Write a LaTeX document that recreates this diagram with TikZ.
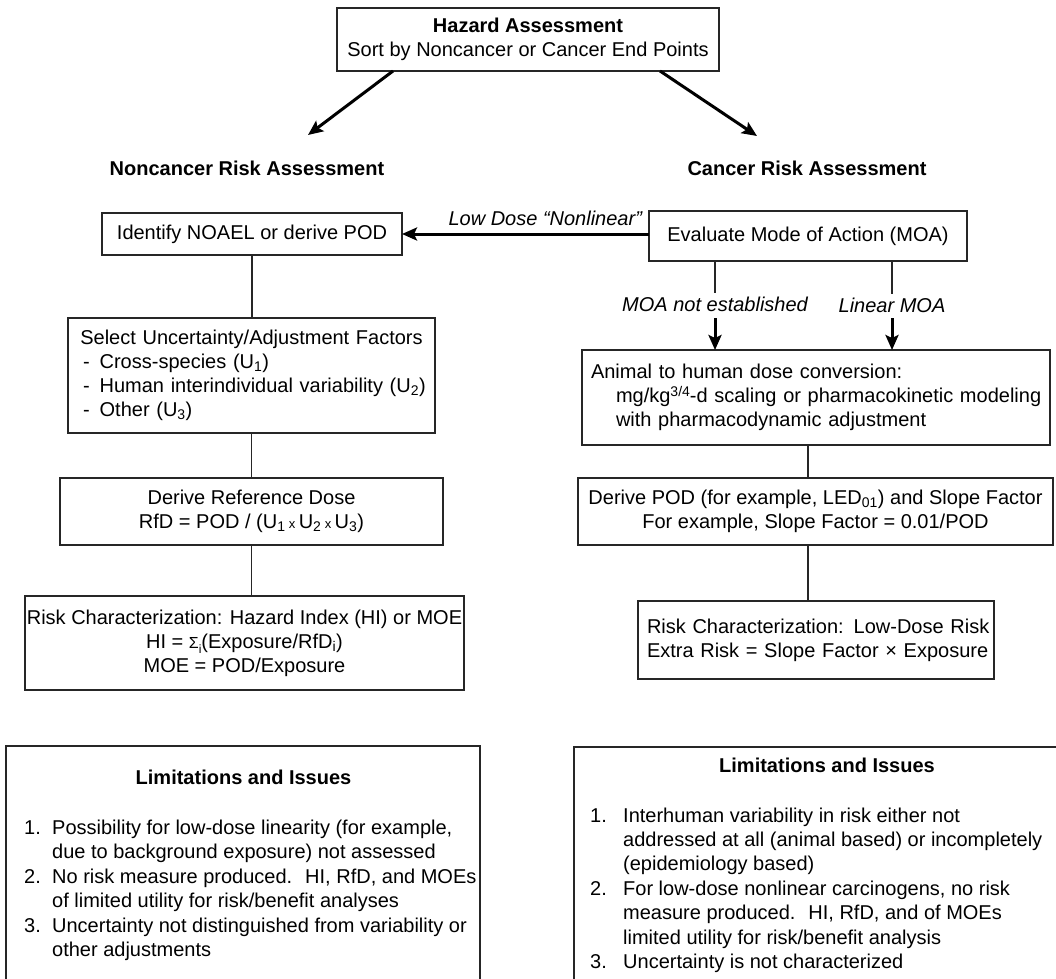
\documentclass[tikz,border=0pt]{standalone}
\usepackage{fontspec}
\setmainfont{Liberation Sans}
\usepackage{tikz}
\usetikzlibrary{calc,positioning,arrows.meta}

\newcommand{\tmx}{{\fontsize{13}{13}\selectfont x}}

\begin{document}
\begin{tikzpicture}[x=1pt,y=-1pt,font=\fontsize{20}{24}\selectfont]
  \useasboundingbox (0,0) rectangle (1056,978);
  \clip (0,0) rectangle (1056,978);
  \tikzstyle{box}=[draw=black!85, line width=1.3pt, inner sep=0pt, outer sep=0pt, align=center]
  \tikzstyle{head}=[font=\fontsize{20}{24}\selectfont\bfseries]
  \tikzstyle{lbl}=[font=\fontsize{20}{24}\selectfont\itshape, inner sep=0pt]
  \tikzstyle{link}=[line width=1.3pt, draw=black!85]
  \tikzstyle{bigarrow}=[line width=3pt, -{Stealth[length=15pt,width=13pt,inset=3pt]}]
  % top
  \node[box, minimum width=382pt, minimum height=63pt] (haz) at (528,39.5)
    {{\bfseries Hazard Assessment}\\Sort by Noncancer or Cancer End Points};
  \node[head] (nonc) at (247,168) {Noncancer Risk Assessment};
  \node[head] (canc) at (807,168) {Cancer Risk Assessment};
  \coordinate (hzL) at ([xshift=-135pt]haz.south);
  \coordinate (hzR) at ([xshift=132pt]haz.south);
  \coordinate (ncTip) at (308,135);
  \coordinate (caTip) at (757,136);
  \draw[bigarrow] (hzL) -- (ncTip);
  \draw[bigarrow] (hzR) -- (caTip);
  % noncancer column
  \node[box, minimum width=300pt, minimum height=42pt] (ident) at (252,234) {Identify NOAEL or derive POD};
  \node[box, text width=351pt, inner xsep=8pt, minimum height=115pt, align=left] (sel) at (251.5,375.5)
    {\makebox[\linewidth]{Select Uncertainty/Adjustment Factors}\\
     \hspace*{7pt}-\hspace{10pt}Cross-species (U\textsubscript{1})\\
     \hspace*{7pt}-\hspace{10pt}Human interindividual variability (U\textsubscript{2})\\
     \hspace*{7pt}-\hspace{10pt}Other (U\textsubscript{3})};
  \node[box, minimum width=383pt, minimum height=67pt] (rfd) at (251.5,511.5)
    {Derive Reference Dose\\RfD = POD / (U\textsubscript{1}\,\tmx\,U\textsubscript{2}\,\tmx\,U\textsubscript{3})};
  \node[box, minimum width=439pt, minimum height=94pt] (hi) at (244.5,643)
    {Risk Characterization: Hazard Index (HI) or MOE\\
     HI = {\fontsize{16}{16}\selectfont Σ}\raisebox{-5pt}{\fontsize{12}{12}\selectfont i}(Exposure/RfD\textsubscript{i})\\
     MOE = POD/Exposure};
  \draw[link] (ident.south) -- (ident.south |- sel.north);
  \draw[link] (sel.south) -- (sel.south |- rfd.north);
  \draw[link] (rfd.south) -- (rfd.south |- hi.north);
  % cancer column
  \node[box, minimum width=318pt, minimum height=50pt] (moa) at (808,236) {Evaluate Mode of Action (MOA)};
  \draw[bigarrow] (moa.west |- ident.east) -- node[lbl, above=7pt, pos=0.42] (lowd) {Low Dose “Nonlinear”} (ident.east);
  \node[box, text width=450pt, inner xsep=9pt, minimum height=95pt, align=left] (animal) at (816,397.5)
    {\mbox{Animal to human dose conversion:}\\
     \mbox{\hspace*{25pt}mg/kg{\fontsize{14}{14}\selectfont\raisebox{6pt}{3/4}}-d scaling or pharmacokinetic modeling}\\
     \mbox{\hspace*{25pt}with pharmacodynamic adjustment}};
  \node[lbl, anchor=base] (notest) at (715,311) {MOA not established};
  \node[lbl, anchor=base] (linmoa) at (892,312) {Linear MOA};
  \draw[link] (moa.south -| notest) -- ([yshift=3.5pt]notest.north);
  \draw[link] (moa.south -| linmoa) -- ([yshift=3.5pt]linmoa.north);
  \draw[bigarrow] ([yshift=-7pt]notest.south) -- (notest.south |- animal.north);
  \draw[bigarrow] ([yshift=-6pt]linmoa.south) -- (linmoa.south |- animal.north);
  \node[box, minimum width=475pt, minimum height=67pt] (pod) at (815.5,511.5)
    {Derive POD (for example, LED\textsubscript{01}) and Slope Factor\\For example, Slope Factor = 0.01/POD};
  \node[box, text width=338pt, inner xsep=9pt, minimum height=78pt, align=left] (xr) at (816,640)
    {\mbox{Risk Characterization: Low-Dose Risk}\\\mbox{Extra Risk = Slope Factor × Exposure}};
  \draw[link] (animal.south -| moa) -- (pod.north -| moa);
  \draw[link] (pod.south -| moa) -- (xr.north -| moa);
  % limitations
  \node[box, anchor=north west, minimum width=474pt, minimum height=280pt] (limN) at (6,746) {};
  \node[box, anchor=north west, minimum width=520pt, minimum height=280pt] (limC) at (574,747) {};
  \node[head] (limNt) at (243.5,777) {Limitations and Issues};
  \node[head] (limCt) at (827,765) {Limitations and Issues};
  \node[inner sep=0pt, anchor=base west, font=\fontsize{20}{24.5}\selectfont] (limNl) at (24,834)
    {\begin{tabular}[t]{@{}l@{\hspace{11.3pt}}l@{}}
     1. & Possibility for low-dose linearity (for example,\\
        & due to background exposure) not assessed\\
     2. & No risk measure produced.~ HI, RfD, and MOEs\\
        & of limited utility for risk/benefit analyses\\
     3. & Uncertainty not distinguished from variability or\\
        & other adjustments
     \end{tabular}};
  \node[inner sep=0pt, anchor=base west, font=\fontsize{20}{24.4}\selectfont] (limCl) at (590,822)
    {\begin{tabular}[t]{@{}l@{\hspace{16.3pt}}l@{}}
     1. & Interhuman variability in risk either not\\
        & addressed at all (animal based) or incompletely\\
        & (epidemiology based)\\
     2. & For low-dose nonlinear carcinogens, no risk\\
        & measure produced.~ HI, RfD, and of MOEs\\
        & limited utility for risk/benefit analysis\\
     3. & Uncertainty is not characterized
     \end{tabular}};
\end{tikzpicture}
\end{document}
